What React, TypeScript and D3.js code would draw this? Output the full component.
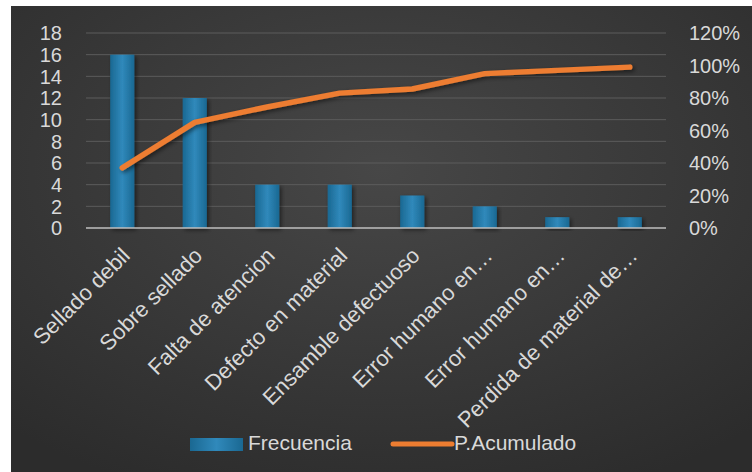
import React from "react";
import * as d3 from "d3";

const categories = [
  "Sellado debil",
  "Sobre sellado",
  "Falta de atencion",
  "Defecto en material",
  "Ensamble defectuoso",
  "Error humano en…",
  "Error humano en…",
  "Perdida de material de…",
];
const frecuencia = [16, 12, 4, 4, 3, 2, 1, 1];
const acumulado = [0.37, 0.65, 0.745, 0.83, 0.855, 0.95, 0.97, 0.99];
const leftTicks = [0, 2, 4, 6, 8, 10, 12, 14, 16, 18];
const rightTicks = [0, 0.2, 0.4, 0.6, 0.8, 1.0, 1.2];
const seriesNames = ["Frecuencia", "P.Acumulado"];

const W = 752;
const H = 472;
const M = { left: 86, right: 666, top: 33, bottom: 228 };
const FONT = "'Liberation Sans', Arial, sans-serif";
const TXT = "#d9d9d9";

export default function App() {
  const idx = categories.map((_, i) => i);
  const x = d3.scaleBand<number>().domain(idx).range([M.left, M.right]).paddingInner(2 / 3).paddingOuter(1 / 3);
  const yL = d3.scaleLinear().domain([0, 18]).range([M.bottom, M.top]);
  const yR = d3.scaleLinear().domain([0, 1.2]).range([M.bottom, M.top]);
  const cx = (i: number) => (x(i) ?? 0) + x.bandwidth() / 2;
  const line = d3
    .line<number>()
    .x((_, i) => cx(i))
    .y((d) => yR(d));

  return (
    <svg
      width={W}
      height={H}
      style={{ position: "absolute", left: 0, top: 0, display: "block" }}
      fontFamily={FONT}
    >
      <defs>
        <radialGradient id="bg" cx="50%" cy="35%" r="75%">
          <stop offset="0%" stopColor="#474747" />
          <stop offset="100%" stopColor="#2c2c2c" />
        </radialGradient>
        <linearGradient id="bar" x1="0" y1="0" x2="1" y2="0">
          <stop offset="0%" stopColor="#1a6892" />
          <stop offset="50%" stopColor="#3089bb" />
          <stop offset="100%" stopColor="#1a6892" />
        </linearGradient>
        <filter id="sh" x="-20%" y="-20%" width="140%" height="140%">
          <feDropShadow dx="2" dy="2" stdDeviation="2" floodColor="#000" floodOpacity="0.5" />
        </filter>
      </defs>
      <rect x={0} y={0} width={W} height={H} fill="#ffffff" />
      <rect x={11} y={6} width={W - 11} height={H - 6} fill="url(#bg)" />

      {leftTicks.slice(1).map((t) => (
        <line key={t} x1={M.left} x2={M.right} y1={yL(t)} y2={yL(t)} stroke="#5c5c5c" strokeWidth={1} />
      ))}

      {frecuencia.map((v, i) => (
        <rect
          key={i}
          x={x(i)}
          y={yL(v)}
          width={x.bandwidth()}
          height={yL(0) - yL(v)}
          fill="url(#bar)"
          filter="url(#sh)"
        />
      ))}

      <line x1={M.left} x2={M.right} y1={yL(0)} y2={yL(0)} stroke="#bfbfbf" strokeWidth={1.5} />

      <path
        d={line(acumulado) ?? ""}
        fill="none"
        stroke="#ED7D31"
        strokeWidth={5.5}
        strokeLinecap="round"
        strokeLinejoin="round"
        filter="url(#sh)"
      />

      {leftTicks.map((t) => (
        <text key={t} x={62} y={yL(t)} dy="0.36em" textAnchor="end" fill={TXT} fontSize={20}>
          {t}
        </text>
      ))}
      {rightTicks.map((t) => (
        <text key={t} x={689} y={yR(t)} dy="0.36em" textAnchor="start" fill={TXT} fontSize={20}>
          {d3.format(".0%")(t)}
        </text>
      ))}

      {categories.map((c, i) => (
        <text
          key={i}
          transform={`translate(${cx(i) + 9},${257}) rotate(-45)`}
          textAnchor="end"
          fill={TXT}
          fontSize={22}
        >
          {c}
        </text>
      ))}

      <rect x={190} y={438} width={53} height={13} fill="url(#bar)" />
      <text x={248} y={450} fill={TXT} fontSize={21}>
        {seriesNames[0]}
      </text>
      <line x1={393} x2={452} y1={444} y2={444} stroke="#ED7D31" strokeWidth={5} strokeLinecap="round" />
      <text x={454} y={450} fill={TXT} fontSize={21}>
        {seriesNames[1]}
      </text>
    </svg>
  );
}
